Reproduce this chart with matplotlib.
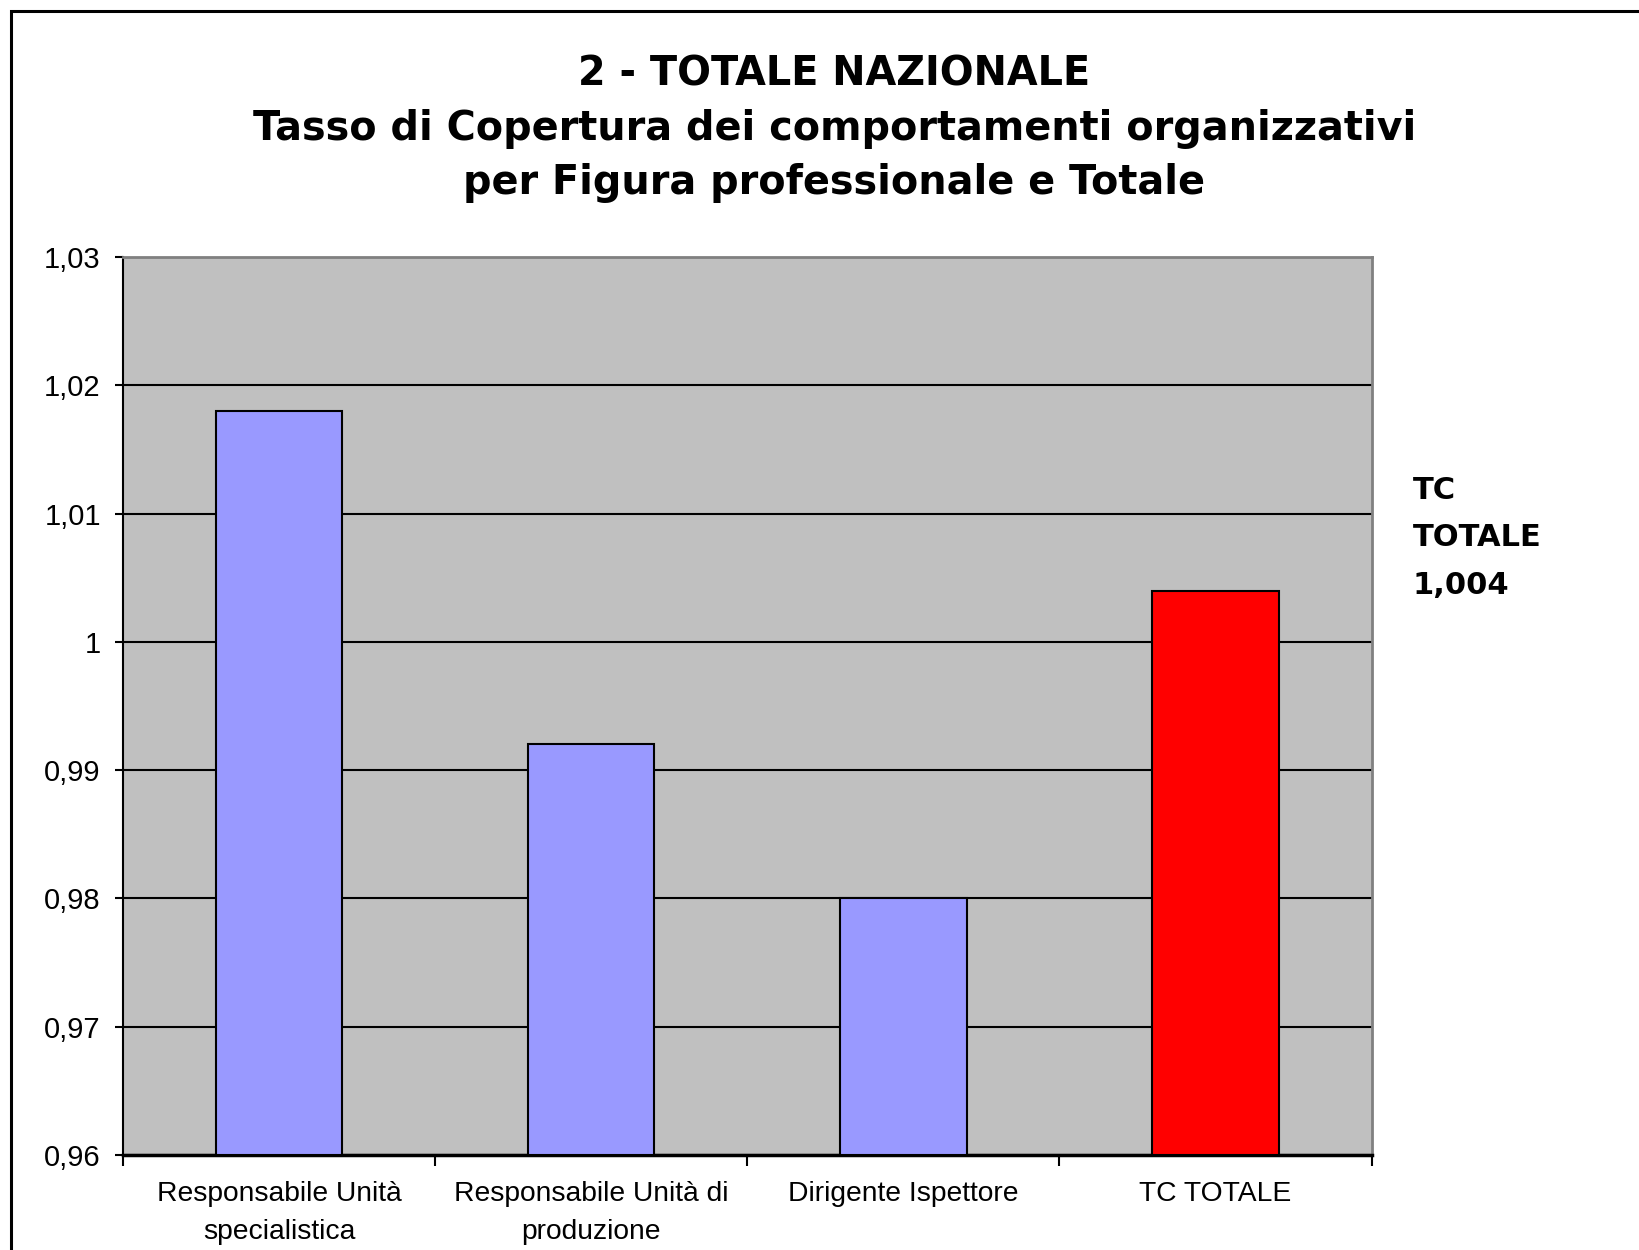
import matplotlib
matplotlib.use("Agg")
import matplotlib.pyplot as plt
from matplotlib.patches import Rectangle

categories = ["Responsabile Unità\nspecialistica", "Responsabile Unità di\nproduzione",
              "Dirigente Ispettore", "TC TOTALE"]
values = [1.018, 0.992, 0.980, 1.004]
colors = ["#9999FF", "#9999FF", "#9999FF", "#FF0000"]
yticks = [0.96, 0.97, 0.98, 0.99, 1.00, 1.01, 1.02, 1.03]
ytick_labels = ["0,96", "0,97", "0,98", "0,99", "1", "1,01", "1,02", "1,03"]
title = "2 - TOTALE NAZIONALE\nTasso di Copertura dei comportamenti organizzativi\nper Figura professionale e Totale"
note = "TC\nTOTALE\n1,004"

fig = plt.figure(figsize=(16.39, 12.5), dpi=100)
W, H = 1639, 1250
ax = fig.add_axes([123 / W, 1 - 1155 / H, (1371.5 - 123) / W, (1155 - 257) / H])
ax.set_facecolor("#C0C0C0")

x = list(range(len(categories)))
ax.set_ylim(0.96, 1.03)
ax.set_xlim(-0.5, len(categories) - 0.5)
ax.set_yticks(yticks)
ax.set_yticklabels(ytick_labels, fontfamily="Liberation Sans", fontsize=21)
ax.yaxis.grid(True, color="black", linewidth=1.5)
ax.set_axisbelow(True)
ax.bar(x, [v - 0.96 for v in values], bottom=0.96, width=0.405, color=colors,
       edgecolor="black", linewidth=1.5, zorder=3)

ax.set_xticks(x)
ax.set_xticklabels(categories, fontfamily="Liberation Sans", fontsize=20.3, linespacing=1.6)
ax.set_xticks([i - 0.5 for i in range(len(categories) + 1)], minor=True)
ax.tick_params(axis="x", which="major", length=0, pad=19)
ax.tick_params(axis="x", which="minor", length=8, width=1.5, direction="out")
ax.tick_params(axis="y", which="major", length=6, width=1.5, direction="out", pad=10)

for s in ["top", "right"]:
    ax.spines[s].set_color("#808080")
    ax.spines[s].set_linewidth(2)
ax.spines["left"].set_color("black")
ax.spines["left"].set_linewidth(1.5)
ax.spines["bottom"].set_color("black")
ax.spines["bottom"].set_linewidth(2.5)

fig.text(0.509, 0.897, title, ha="center", va="center", fontfamily="DejaVu Sans",
         fontweight="bold", fontsize=28.6, linespacing=1.45)
fig.text(1413 / W, 1 - 538 / H, note, ha="left", va="center", fontfamily="DejaVu Sans",
         fontweight="bold", fontsize=22, linespacing=1.8)

fig.patches.append(Rectangle((11 / W, -0.1), 2, 1.1 - 11 / H, transform=fig.transFigure,
                             fill=False, edgecolor="black", linewidth=2.2))

fig.savefig("out.png", dpi=100)
